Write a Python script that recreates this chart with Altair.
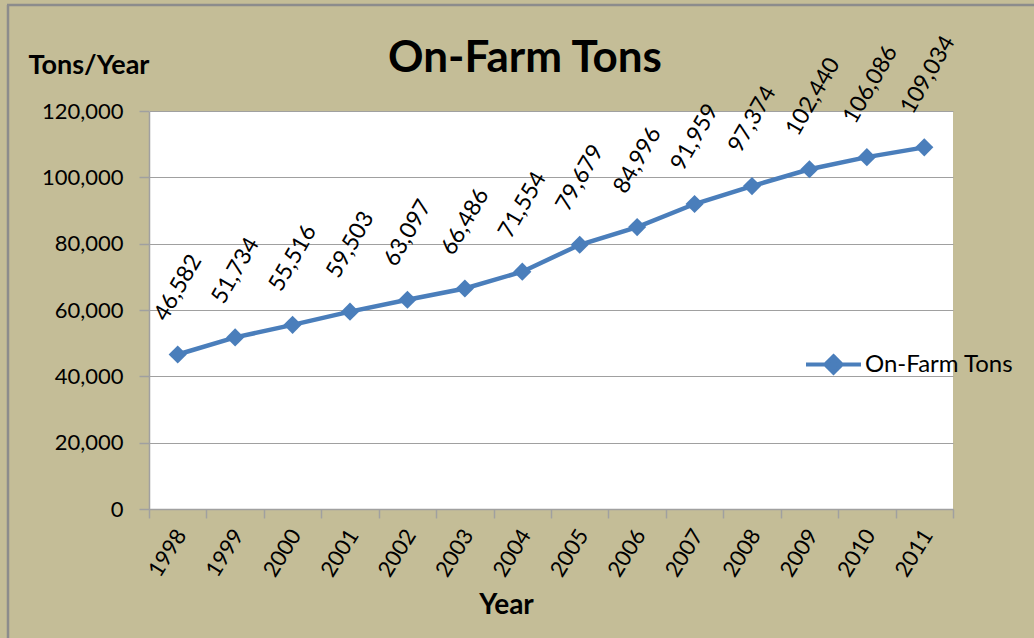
import altair as alt
import pandas as pd

years = ["1998", "1999", "2000", "2001", "2002", "2003", "2004",
         "2005", "2006", "2007", "2008", "2009", "2010", "2011"]
tons = [46582, 51734, 55516, 59503, 63097, 66486, 71554,
        79679, 84996, 91959, 97374, 102440, 106086, 109034]
series = ["On-Farm Tons"] * len(years)
y_ticks = [0, 20000, 40000, 60000, 80000, 100000, 120000]

df = pd.DataFrame({"Year": years, "Tons": tons, "Series": series})

BLUE = "#4A7EBB"
TAN = "#C4BD97"
GRID = "#A0A0A0"
FONT = "Lato"

x_enc = alt.X(
    "Year:O",
    sort=years,
    scale=alt.Scale(paddingInner=0, paddingOuter=0),
    axis=alt.Axis(
        title="Year", titleFont=FONT, titleFontSize=28, titleFontWeight="bold",
        titleColor="black", titleX=357, titleY=96, titleAlign="center",
        titleBaseline="middle",
        labelAngle=-58, labelAlign="right", labelBaseline="middle",
        labelFont=FONT, labelFontSize=22, labelColor="black",
        labelPadding=13, labelOffset=3,
        tickBand="extent", tickSize=9, tickColor=GRID, domainColor=GRID,
        tickWidth=1.5, domainWidth=1.5, grid=False,
    ),
)
y_enc = alt.Y(
    "Tons:Q",
    scale=alt.Scale(domain=[0, 120000], nice=False),
    axis=alt.Axis(
        values=y_ticks, format=",.0f",
        title="Tons/Year", titleFont=FONT, titleFontSize=27, titleFontWeight="bold",
        titleColor="black", titleAngle=0, titleX=-121, titleY=-46,
        titleAlign="left", titleBaseline="middle",
        labelFont=FONT, labelFontSize=22, labelColor="black", labelPadding=16,
        tickSize=10, tickColor=GRID, domainColor=GRID, tickWidth=1.5,
        domainWidth=1.5, grid=True, gridColor=GRID, gridWidth=1.2,
    ),
)
color_enc = alt.Color(
    "Series:N",
    scale=alt.Scale(range=[BLUE]),
    legend=alt.Legend(
        title=None, orient="none", legendX=655, legendY=224,
        labelFont=FONT, labelFontSize=24, labelColor="black",
        symbolType="M-1,0H1M0,-0.3L0.3,0L0,0.3L-0.3,0Z",
        symbolSize=3025, symbolStrokeWidth=4,
        symbolFillColor=BLUE, symbolStrokeColor=BLUE, labelOffset=2,
        padding=0,
    ),
)

base = alt.Chart(df)

line = base.mark_line(strokeWidth=4.5, color=BLUE).encode(
    x=x_enc, y=y_enc, color=color_enc
)
points = base.mark_point(shape="diamond", size=330, filled=True, opacity=1,
                         color=BLUE).encode(
    x=alt.X("Year:O", sort=years), y="Tons:Q", color=color_enc
)
labels = base.mark_text(
    angle=300, align="left", baseline="middle", dx=22, dy=-33,
    font=FONT, fontSize=23, color="black"
).encode(
    x=alt.X("Year:O", sort=years), y="Tons:Q",
    text=alt.Text("Tons:Q", format=",")
)

frame_data = alt.Data(values=[{"k": 1}])
frame_v = alt.Chart(frame_data).mark_rule(color="#8C8C8C", strokeWidth=2.5).encode(
    x=alt.value(-141), y=alt.value(-106), y2=alt.value(527)
)
frame_h = alt.Chart(frame_data).mark_rule(color="#8C8C8C", strokeWidth=2.5).encode(
    x=alt.value(-142), x2=alt.value(885), y=alt.value(-106)
)

chart = alt.layer(line, points, labels, frame_v, frame_h).properties(
    width=804, height=398,
    title=alt.Title("On-Farm Tons", font=FONT, fontSize=44, fontWeight="bold",
                    color="black", anchor="middle", frame="group", dx=-26,
                    baseline="alphabetic", offset=0, dy=112),
    autosize="none",
    padding={"left": 149, "top": 111, "right": 81, "bottom": 129},
    background=TAN,
).configure_view(fill="white", stroke=None)

chart.save("out.html", embed_options={"renderer": "svg", "actions": False})
